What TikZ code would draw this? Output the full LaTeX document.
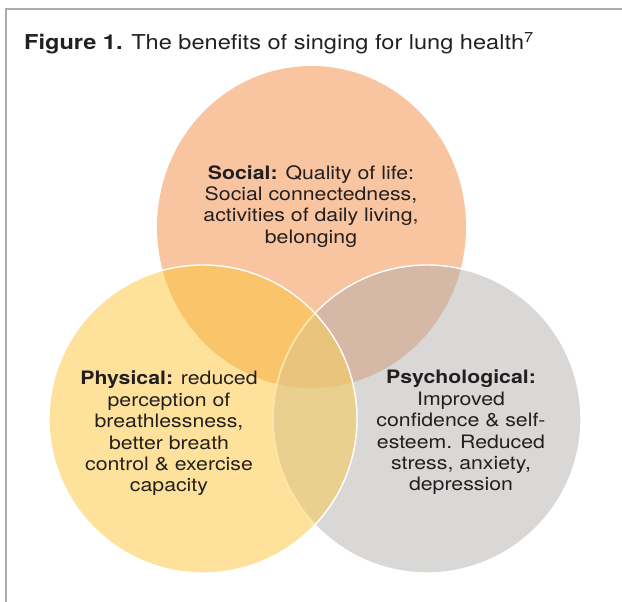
\documentclass[tikz,border=0pt]{standalone}
\usepackage{fontspec}
\setmainfont{TeX Gyre Heros}[FakeStretch=1.15]
\usepackage{tikz}
\usetikzlibrary{positioning}

\definecolor{frame_gray}{RGB}{170,171,174}
\definecolor{txt_gray}{RGB}{35,31,32}
\definecolor{col_soc}{RGB}{248,197,160}
\definecolor{col_phy}{RGB}{254,226,156}
\definecolor{col_psy}{RGB}{217,216,214}
\definecolor{col_soc_phy}{RGB}{249,196,106}
\definecolor{col_soc_psy}{RGB}{213,184,165}
\definecolor{col_phy_psy}{RGB}{234,208,142}
\definecolor{col_all}{RGB}{233,196,124}

\tikzset{
  lbl/.style={align=center, inner sep=0pt, text=txt_gray,
    font=\fontsize{18.5}{21.4}\selectfont},
  rim/.style={white, line width=1.4pt},
}

% disc outlines
\newcommand{\socdisc}{(c_soc) ellipse[x radius=154.5pt, y radius=161pt]}
\newcommand{\phydisc}{(c_phy) circle[radius=154pt]}
\newcommand{\psydisc}{(c_psy) circle[radius=154pt]}

\begin{document}
\begin{tikzpicture}[x=1pt, y=-1pt]
\useasboundingbox (0,0) rectangle (622,602);
\path (311.5,227) coordinate (c_soc)
      (203,419) coordinate (c_phy)
      (427,419) coordinate (c_psy);

% frame, open at the right and bottom
\draw[frame_gray, line width=2.5pt] (622,9) -- (6,9) -- (6,602);

% the three discs
\fill[col_soc] \socdisc;
\fill[col_phy] \phydisc;
\fill[col_psy] \psydisc;

% pairwise overlaps
\begin{scope}
  \clip \socdisc;
  \fill[col_soc_phy] \phydisc;
  \fill[col_soc_psy] \psydisc;
\end{scope}
\begin{scope}
  \clip \phydisc;
  \fill[col_phy_psy] \psydisc;
\end{scope}

% middle part
\begin{scope}
  \clip \socdisc;
  \clip \phydisc;
  \fill[col_all] \psydisc;
\end{scope}

% white rims of the two lower discs, the right one seen through the left
\draw[rim] \psydisc;
\begin{scope}
  \clip \phydisc;
  \draw[rim, col_phy] \psydisc;
\end{scope}
\draw[rim] \phydisc;

\node[anchor=base west, inner sep=0pt, text=txt_gray,
      font=\fontsize{20.5}{24}\selectfont] (title) at (24,50)
  {\textbf{Figure 1.} The benefits of singing for lung health\textsuperscript{7}};

\node[lbl, anchor=north] (social) at (311,165)
  {\textbf{Social:} Quality of life:\\Social connectedness,\\activities of daily living,\\belonging};
\node[lbl, anchor=north] (physical) at (169,371)
  {\textbf{Physical:} reduced\\perception of\\breathlessness,\\better breath\\control \& exercise\\capacity};
\node[lbl, anchor=north] (psycho) at (461,370)
  {\textbf{Psychological:}\\Improved\\confidence \& self-\\esteem. Reduced\\stress, anxiety,\\depression};
%--------end graphics code --------
\end{tikzpicture}
\end{document}
